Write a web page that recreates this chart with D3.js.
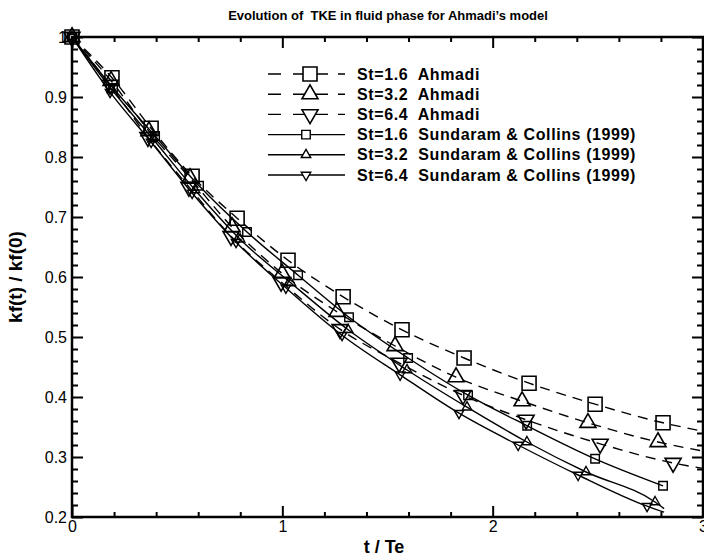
<!DOCTYPE html>
<html>
<head>
<meta charset="utf-8">
<script src="https://cdn.jsdelivr.net/npm/d3@7"></script>
<style>
  body { margin: 0; background: #fff; }
  text { font-family: "Liberation Sans", Arial, Helvetica, sans-serif; fill: #000; white-space: pre; }
</style>
</head>
<body>
<svg id="chart" width="704" height="557"></svg>
<script>
// Normalised fluid-phase TKE, kf(t)/kf(0), against t/Te.
// Ahmadi model (dashed, large markers); the last point of each carries no marker.
const tAhmadi16 = [0, 0.19, 0.376, 0.571, 0.785, 1.027, 1.289, 1.569, 1.864, 2.173, 2.487, 2.810, 3.0];
const kAhmadi16 = [1.0, 0.932, 0.848, 0.768, 0.698, 0.628, 0.567, 0.512, 0.465, 0.423, 0.388, 0.357, 0.343];
const tAhmadi32 = [0, 0.186, 0.366, 0.561, 0.761, 0.999, 1.260, 1.536, 1.826, 2.140, 2.453, 2.786, 3.0];
const kAhmadi32 = [1.0, 0.927, 0.843, 0.765, 0.683, 0.606, 0.542, 0.485, 0.433, 0.393, 0.357, 0.325, 0.310];
const tAhmadi64 = [0, 0.181, 0.361, 0.556, 0.756, 0.994, 1.274, 1.555, 1.859, 2.159, 2.511, 2.858, 3.0];
const kAhmadi64 = [1.0, 0.920, 0.833, 0.750, 0.668, 0.592, 0.513, 0.457, 0.403, 0.362, 0.322, 0.290, 0.281];

// Sundaram & Collins (1999) (solid, small markers); trailing point without marker where the curve runs on.
const tSundaram16 = [0, 0.195, 0.395, 0.604, 0.832, 1.075, 1.317, 1.598, 1.883, 2.164, 2.487, 2.810];
const kSundaram16 = [1.0, 0.915, 0.835, 0.752, 0.675, 0.603, 0.533, 0.465, 0.403, 0.352, 0.297, 0.252];
const tSundaram32 = [0, 0.190, 0.385, 0.585, 0.799, 1.041, 1.313, 1.593, 1.878, 2.163, 2.444, 2.772, 2.815];
const kSundaram32 = [1.0, 0.912, 0.830, 0.745, 0.663, 0.590, 0.512, 0.445, 0.383, 0.325, 0.275, 0.225, 0.214];
const tSundaram64 = [0, 0.181, 0.376, 0.571, 0.780, 1.017, 1.284, 1.560, 1.840, 2.121, 2.406, 2.734, 2.815];
const kSundaram64 = [1.0, 0.908, 0.825, 0.740, 0.658, 0.582, 0.503, 0.437, 0.373, 0.320, 0.270, 0.218, 0.208];

// Number of leading points that carry a marker in each series.
const markedAhmadi = [12, 12, 12];
const markedSundaram = [12, 12, 12];

const legendLabels = [
  "St=1.6  Ahmadi",
  "St=3.2  Ahmadi",
  "St=6.4  Ahmadi",
  "St=1.6  Sundaram & Collins (1999)",
  "St=3.2  Sundaram & Collins (1999)",
  "St=6.4  Sundaram & Collins (1999)"
];
const xTickValues = [0, 1, 2, 3];
const yTickValues = [0.2, 0.3, 0.4, 0.5, 0.6, 0.7, 0.8, 0.9, 1];
const titleText = "Evolution of  TKE in fluid phase for Ahmadi\u2019s model";
const xLabelText = "t / Te";
const yLabelText = "kf(t) / kf(0)";

// ---- layout ----
const svg = d3.select("#chart");
const plot = { left: 72, right: 703, top: 37, bottom: 517 };
const x = d3.scaleLinear().domain([0, 3]).range([plot.left, plot.right]);
const y = d3.scaleLinear().domain([0.2, 1]).range([plot.bottom, plot.top]);

svg.append("defs").append("clipPath").attr("id", "plotClip")
  .append("rect")
  .attr("x", plot.left).attr("y", plot.top - 20)
  .attr("width", plot.right - plot.left).attr("height", plot.bottom - plot.top + 20);

// ---- series definitions ----
const series = [
  { t: tAhmadi16, k: kAhmadi16, shape: "square", big: true, dashed: true, marked: markedAhmadi[0] },
  { t: tAhmadi32, k: kAhmadi32, shape: "up", big: true, dashed: true, marked: markedAhmadi[1] },
  { t: tAhmadi64, k: kAhmadi64, shape: "down", big: true, dashed: true, marked: markedAhmadi[2] },
  { t: tSundaram16, k: kSundaram16, shape: "square", big: false, dashed: false, marked: markedSundaram[0] },
  { t: tSundaram32, k: kSundaram32, shape: "up", big: false, dashed: false, marked: markedSundaram[1] },
  { t: tSundaram64, k: kSundaram64, shape: "down", big: false, dashed: false, marked: markedSundaram[2] }
];

function markerPath(shape, big) {
  if (shape === "square") {
    const s = big ? 14 : 8.5;
    return d3.symbol().type(d3.symbolSquare).size(s * s)();
  }
  const side = big ? 16 : 9.5;
  return d3.symbol().type(d3.symbolTriangle).size(0.433 * side * side)();
}
function markerTransform(shape, px, py) {
  return shape === "down"
    ? `translate(${px},${py}) rotate(180)`
    : `translate(${px},${py})`;
}

const line = d3.line()
  .x(d => x(d[0]))
  .y(d => y(d[1]))
  .curve(d3.curveMonotoneX);

const curves = svg.append("g").attr("clip-path", "url(#plotClip)");
series.forEach(s => {
  const pts = s.t.map((t, i) => [t, s.k[i]]);
  curves.append("path")
    .attr("d", line(pts))
    .attr("fill", "none")
    .attr("stroke", "#000")
    .attr("stroke-width", 1.4)
    .attr("stroke-dasharray", s.dashed ? "10,7" : null);
});

const marks = svg.append("g");
series.forEach(s => {
  const pts = s.t.slice(0, s.marked).map((t, i) => [t, s.k[i]]);
  marks.selectAll(null)
    .data(pts)
    .join("path")
    .attr("d", markerPath(s.shape, s.big))
    .attr("transform", d => markerTransform(s.shape, x(d[0]), y(d[1])))
    .attr("fill", "none")
    .attr("stroke", "#000")
    .attr("stroke-width", s.big ? 1.6 : 1.4);
});

// ---- axes: ticks drawn inward on all four sides ----
const minorX = d3.range(0, 3.0001, 0.2).filter(v => Math.abs(v - Math.round(v)) > 1e-6);
const minorY = d3.range(0.2, 1.0001, 0.02).filter(v => Math.abs(v * 10 - Math.round(v * 10)) > 1e-6);

function styleAxis(g) {
  g.select(".domain").remove();
  g.selectAll(".tick line").attr("stroke", "#000").attr("stroke-width", 2);
  g.selectAll(".tick text")
    .style("font-family", "'Liberation Sans', Arial, sans-serif")
    .style("font-size", "16px")
    .attr("fill", "#000");
}

svg.append("g").attr("transform", `translate(0,${plot.bottom})`)
  .call(d3.axisBottom(x).tickValues(xTickValues).tickSizeInner(-11).tickSizeOuter(0).tickPadding(4).tickFormat(d3.format("d")))
  .call(styleAxis);
svg.append("g").attr("transform", `translate(0,${plot.bottom})`)
  .call(d3.axisBottom(x).tickValues(minorX).tickSizeInner(-5).tickSizeOuter(0).tickFormat(""))
  .call(styleAxis);
svg.append("g").attr("transform", `translate(0,${plot.top})`)
  .call(d3.axisTop(x).tickValues(xTickValues).tickSizeInner(-11).tickSizeOuter(0).tickFormat(""))
  .call(styleAxis);
svg.append("g").attr("transform", `translate(0,${plot.top})`)
  .call(d3.axisTop(x).tickValues(minorX).tickSizeInner(-5).tickSizeOuter(0).tickFormat(""))
  .call(styleAxis);

svg.append("g").attr("transform", `translate(${plot.left},0)`)
  .call(d3.axisLeft(y).tickValues(yTickValues).tickSizeInner(-11).tickSizeOuter(0).tickPadding(5)
    .tickFormat(d => d === 1 ? "1" : d3.format(".1f")(d)))
  .call(styleAxis);
svg.append("g").attr("transform", `translate(${plot.left},0)`)
  .call(d3.axisLeft(y).tickValues(minorY).tickSizeInner(-6).tickSizeOuter(0).tickFormat(""))
  .call(styleAxis);
svg.append("g").attr("transform", `translate(${plot.right},0)`)
  .call(d3.axisRight(y).tickValues(yTickValues).tickSizeInner(-11).tickSizeOuter(0).tickFormat(""))
  .call(styleAxis);
svg.append("g").attr("transform", `translate(${plot.right},0)`)
  .call(d3.axisRight(y).tickValues(minorY).tickSizeInner(-6).tickSizeOuter(0).tickFormat(""))
  .call(styleAxis);

// frame
svg.append("rect")
  .attr("x", plot.left).attr("y", plot.top)
  .attr("width", plot.right - plot.left).attr("height", plot.bottom - plot.top)
  .attr("fill", "none").attr("stroke", "#000").attr("stroke-width", 2.5);

// ---- titles ----
svg.append("text")
  .attr("x", 388).attr("y", 20)
  .attr("text-anchor", "middle")
  .style("font-weight", "bold").style("font-size", "13px")
  .text(titleText);

svg.append("text")
  .attr("x", 384).attr("y", 553)
  .attr("text-anchor", "middle")
  .style("font-weight", "bold").style("font-size", "18px")
  .text(xLabelText);

svg.append("text")
  .attr("transform", `translate(22,${(plot.top + plot.bottom) / 2}) rotate(-90)`)
  .attr("text-anchor", "middle")
  .style("font-weight", "bold").style("font-size", "19px")
  .text(yLabelText);

// ---- legend ----
const legend = svg.append("g");
const rowGap = 20.2, firstRow = 74;
series.forEach((s, i) => {
  const ry = firstRow + i * rowGap;
  legend.append("line")
    .attr("x1", 268).attr("x2", 345).attr("y1", ry).attr("y2", ry)
    .attr("stroke", "#000").attr("stroke-width", 1.4)
    .attr("stroke-dasharray", s.dashed ? "13,12,35,10,7,100" : null);
  legend.append("path")
    .attr("d", markerPath(s.shape, s.big))
    .attr("transform", markerTransform(s.shape, s.big ? 310 : 306, ry))
    .attr("fill", "#fff")
    .attr("stroke", "#000").attr("stroke-width", s.big ? 1.6 : 1.4);
  legend.append("text")
    .attr("x", 357).attr("y", ry + 5.5)
    .style("font-weight", "bold").style("font-size", "16px")
    .style("letter-spacing", "0.6px")
    .text(legendLabels[i]);
});
</script>
</body>
</html>
